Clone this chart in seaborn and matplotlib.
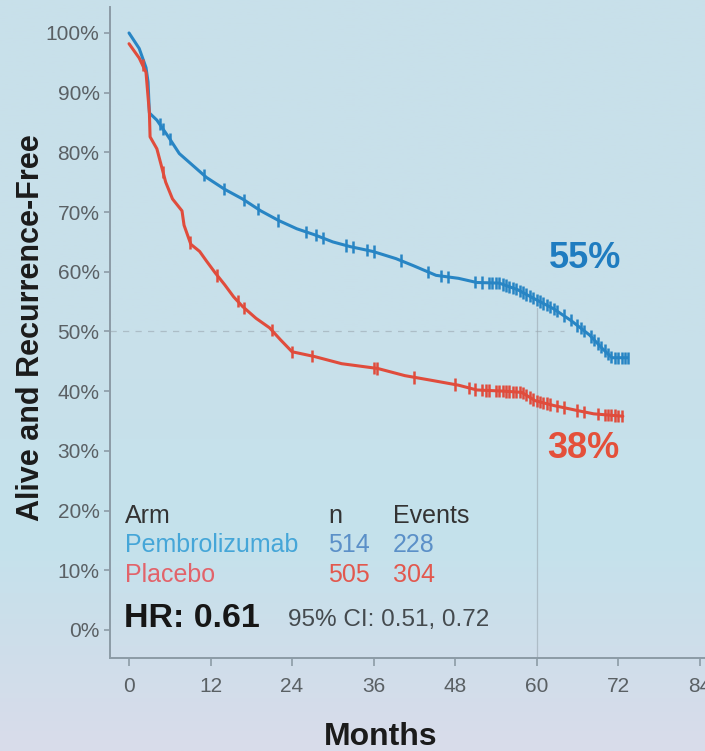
import numpy as np
import pandas as pd
import matplotlib
matplotlib.use("Agg")
import matplotlib.pyplot as plt
from matplotlib.ticker import FuncFormatter
import seaborn as sns

# ---- data -------------------------------------------------------------
pembro_months = [0, 1.5, 2.5, 2.8, 3.0, 4.1, 5.8, 7.4, 9.4, 11.4, 14.1, 16.7,
                 19.4, 22.0, 24.7, 27.3, 30.0, 32.6, 35.9, 39.3, 41.9, 45.2,
                 48.5, 51.2, 54.5, 57.2, 59.8, 62.5, 65.1, 67.8, 69.8, 71.1, 73.4]
pembro_surv = [100, 97.4, 94.2, 91.8, 86.6, 85.4, 82.6, 79.8, 77.8, 75.8, 73.8,
               72.2, 70.2, 68.6, 67.2, 66.2, 65.0, 64.2, 63.4, 62.2, 61.0, 59.4,
               58.9, 58.2, 58.1, 57.0, 55.4, 53.8, 51.8, 49.4, 47.0, 45.6, 45.6]

placebo_months = [0, 1.5, 2.5, 3.0, 3.1, 4.1, 5.4, 6.4, 7.8, 8.1, 9.1, 10.4,
                  11.4, 12.7, 14.1, 15.4, 16.7, 18.7, 20.7, 22.3, 24.0, 27.3,
                  31.3, 36.6, 40.6, 44.6, 48.5, 51.2, 55.2, 57.8, 59.8, 62.5,
                  65.8, 68.4, 72.7]
placebo_surv = [98.2, 95.8, 93.4, 86.6, 82.6, 80.6, 75.0, 72.2, 70.2, 67.8, 64.6,
                63.4, 61.8, 59.8, 57.8, 55.8, 54.2, 52.2, 50.6, 48.6, 46.6, 45.8,
                44.6, 43.8, 42.6, 41.8, 41.0, 40.2, 40.0, 39.8, 38.4, 37.6, 36.8,
                36.2, 35.8]

pembro_censor = [4.5, 5, 6, 11, 14, 17, 19, 22, 26, 27.5, 28.5, 32, 33, 35, 36,
                 40, 44, 46, 47, 51, 52, 53, 53.5, 54, 54.5, 55, 55.5, 56, 56.5,
                 57, 57.5, 58, 58.5, 59, 59.5, 60, 60.5, 61, 61.5, 62, 62.5, 63,
                 64, 65, 66, 66.5, 67, 68, 68.5, 69, 69.5, 70, 70.5, 71, 71.5,
                 72, 72.5, 73, 73.4]
placebo_censor = [2, 5, 9, 13, 16, 17, 21, 24, 27, 36, 36.5, 42, 48, 50, 51, 52,
                  52.5, 53, 54, 54.5, 55, 55.5, 56, 56.5, 57, 57.5, 58, 58.5, 59,
                  59.5, 60, 60.5, 61, 61.5, 62, 63, 64, 66, 67, 69, 70, 70.5, 71,
                  71.5, 72, 72.5]

arms = ["Pembrolizumab", "Placebo"]
arm_n = [514, 505]
arm_events = [228, 304]
landmark_month = 60
landmark_pct = [55, 38]
hr_text = "HR: 0.61"
ci_text = "95% CI: 0.51, 0.72"

x_ticks = [0, 12, 24, 36, 48, 60, 72, 84]
y_ticks = [0, 10, 20, 30, 40, 50, 60, 70, 80, 90, 100]

# ---- style ------------------------------------------------------------
sns.set_theme(style="ticks")
plt.rcParams["font.family"] = ["Liberation Sans", "DejaVu Sans"]

W, H = 705, 751
fig = plt.figure(figsize=(W / 100, H / 100), dpi=100)


def fx(px):
    return px / W


def fy(py):
    return 1 - py / H


# soft slide-style background gradient
bg = fig.add_axes([0, 0, 1, 1], zorder=-10)
stops = np.array([0.0, 0.45, 0.72, 0.86, 1.0])
cols = np.array([[200, 224, 234], [201, 224, 234], [196, 226, 236],
                 [206, 222, 234], [217, 220, 235]]) / 255.0
t = np.linspace(0, 1, 400)
grad = np.stack([np.interp(t, stops, cols[:, k]) for k in range(3)], axis=1)
bg.imshow(grad[:, None, :], aspect="auto", extent=[0, 1, 0, 1], origin="upper")
bg.set_axis_off()

ax = fig.add_axes([fx(110), fy(658), (720 - 110) / W, (658 - 7) / H])
ax.set_facecolor("none")

blue_line = "#2885c4"
red_line = "#e04c3c"
palette = {"Pembrolizumab": blue_line, "Placebo": red_line}

curves = pd.concat([
    pd.DataFrame({"Months": pembro_months, "Pct": pembro_surv, "Arm": arms[0]}),
    pd.DataFrame({"Months": placebo_months, "Pct": placebo_surv, "Arm": arms[1]}),
])
sns.lineplot(data=curves, x="Months", y="Pct", hue="Arm", palette=palette,
             estimator=None, sort=True, linewidth=2.2, legend=False, ax=ax,
             zorder=3)

censors = pd.concat([
    pd.DataFrame({"Months": pembro_censor,
                  "Pct": np.interp(pembro_censor, pembro_months, pembro_surv),
                  "Arm": arms[0]}),
    pd.DataFrame({"Months": placebo_censor,
                  "Pct": np.interp(placebo_censor, placebo_months, placebo_surv),
                  "Arm": arms[1]}),
])
sns.scatterplot(data=censors, x="Months", y="Pct", hue="Arm", palette=palette,
                marker="|", s=80, linewidth=1.8, legend=False, ax=ax, zorder=4)

ax.set_xlim(-2.8, 87.0)
ax.set_ylim(-4.7, 104.35)

# reference lines at the 50% level and the 60-month landmark
ax.plot([ax.get_xlim()[0], 64], [50, 50], color="#9aa7b0", lw=0.9,
        ls=(0, (5, 5)), alpha=0.6, zorder=1)
ax.plot([landmark_month, landmark_month], [ax.get_ylim()[0], landmark_pct[0] - 1],
        color="#9aa7b0", lw=0.9, alpha=0.6, zorder=1)

ax.set_xticks(x_ticks)
ax.set_yticks(y_ticks)
ax.yaxis.set_major_formatter(FuncFormatter(lambda v, p: f"{v:.0f}%"))
ax.set_xlabel("")
ax.set_ylabel("")
spine_col = "#8c9ba6"
for side in ["top", "right"]:
    ax.spines[side].set_visible(False)
for side in ["left", "bottom"]:
    ax.spines[side].set_color(spine_col)
    ax.spines[side].set_linewidth(1.4)
ax.tick_params(axis="y", colors=spine_col, length=4.5, width=1.2, pad=3,
               labelsize=15, labelcolor="#5a6064")
ax.tick_params(axis="x", colors=spine_col, length=6, width=1.2, pad=8,
               labelsize=15, labelcolor="#5a6064")

# axis titles
fig.text(fx(31), fy(328), "Alive and Recurrence-Free", rotation=90,
         ha="center", va="center", fontsize=22, fontweight="bold",
         color="#1b1b1b")
fig.text(fx(381), fy(737), "Months", ha="center", va="center", fontsize=23,
         fontweight="bold", color="#1b1b1b")

# landmark percentages
fig.text(fx(585), fy(268), f"{landmark_pct[0]}%", ha="center", va="baseline",
         fontsize=26, fontweight="bold", color="#1f7cc0")
fig.text(fx(583), fy(458), f"{landmark_pct[1]}%", ha="center", va="baseline",
         fontsize=26, fontweight="bold", color="#e4503a")

# summary table
head_col = "#333333"
name_cols = ["#45a6d8", "#e2636a"]
num_cols = ["#5b90c8", "#e2584e"]
row_base = [552, 582]
fig.text(fx(125), fy(523), "Arm", ha="left", va="baseline", fontsize=18,
         color=head_col)
fig.text(fx(328), fy(523), "n", ha="left", va="baseline", fontsize=18,
         color=head_col)
fig.text(fx(393), fy(523), "Events", ha="left", va="baseline", fontsize=18,
         color=head_col)
for i, arm in enumerate(arms):
    fig.text(fx(125), fy(row_base[i]), arm, ha="left", va="baseline",
             fontsize=18, color=name_cols[i])
    fig.text(fx(328), fy(row_base[i]), str(arm_n[i]), ha="left",
             va="baseline", fontsize=18, color=num_cols[i])
    fig.text(fx(393), fy(row_base[i]), str(arm_events[i]), ha="left",
             va="baseline", fontsize=18, color=num_cols[i])

fig.text(fx(124), fy(627), hr_text, ha="left", va="baseline", fontsize=24.5,
         fontweight="bold", color="#161616")
fig.text(fx(288), fy(626), ci_text, ha="left", va="baseline", fontsize=17.5,
         color="#444a4e")

fig.savefig("out.png", dpi=100)
